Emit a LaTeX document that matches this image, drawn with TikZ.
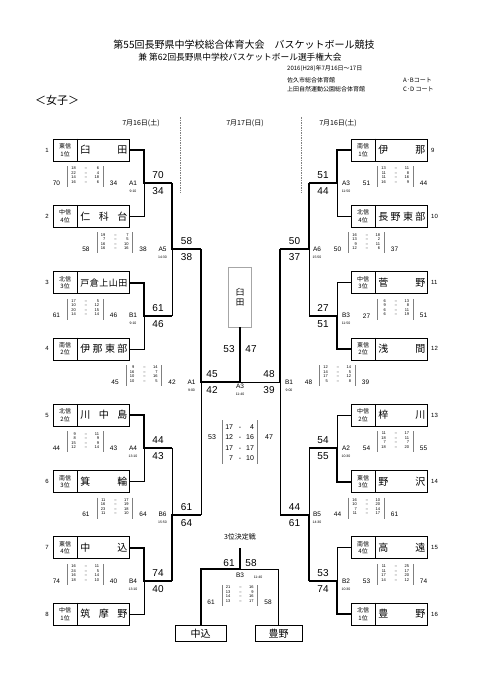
\documentclass[tikz,border=0pt]{standalone}
\usepackage{fontspec}
\setmainfont{Liberation Sans}
\newfontfamily\jp{Noto Sans CJK JP}

% one quarter row of a score table
\newcommand\qtr[2]{\makebox[4.5pt][r]{#1}\hspace{8.9pt}--\hspace{7.5pt}\makebox[4.5pt][r]{#2}}
\newcommand\qtrbig[2]{\makebox[8pt][r]{#1}\hspace{5.8pt}-\hspace{4.8pt}\makebox[8pt][r]{#2}}

% score table: centre x, match y, left score, right score, rows, name
\newcommand\scoretab[6]{%
  \draw[tabline] (#1-17.75,#2-17) -- (#1-17.75,#2+4);
  \draw[tabline] (#1+17.75,#2-17) -- (#1+17.75,#2+4);
  \node[tscore] (#6l) at (#1-28.5,#2) {#3};
  \node[tscore] (#6r) at (#1+28.5,#2) {#4};
  \node[qrows] (#6q) at (#1+0.25,#2-8) {#5};
}
% match label with its time below
\newcommand\matchlbl[5]{%
  \node[mlabel] (#5) at (#1,#2) {#3};
  \node[mtime] (#5t) at (#1,#2+8) {#4};
}

\tikzset{
  win/.style={line width=2pt},
  lose/.style={line width=0.7pt},
  teambox/.style={draw, line width=0.8pt, minimum width=76pt, minimum height=22pt, inner sep=0pt},
  cellline/.style={line width=0.8pt},
  regtext/.style={font=\jp\fontsize{6}{7.5}\selectfont, align=center, inner sep=0pt},
  nametext/.style={font=\jp\fontsize{10}{10}\selectfont, inner sep=0pt},
  seedno/.style={font=\fontsize{6}{6}\selectfont, inner sep=0pt},
  bscore/.style={font=\fontsize{10}{10}\selectfont, inner sep=0pt},
  tscore/.style={font=\fontsize{6.5}{6.5}\selectfont, inner sep=0pt},
  mlabel/.style={font=\fontsize{6.5}{6.5}\selectfont, inner sep=0pt},
  mtime/.style={font=\fontsize{3.5}{3.5}\selectfont, inner sep=0pt},
  qrows/.style={font=\fontsize{4}{4.5}\selectfont, align=center, inner sep=0pt},
  tabline/.style={gray, line width=0.4pt},
  sepline/.style={gray, line width=0.5pt, dash pattern=on 1.5pt off 1pt},
  jptext/.style={font=\jp\fontsize{#1}{#1}\selectfont, inner sep=0pt},
}

\begin{document}
\begin{tikzpicture}[x=1pt,y=-1pt]
    \fill[white] (0,0) rectangle (481,680);

    % Header
    \node[jptext=10] (title) at (244,45) {第55回長野県中学校総合体育大会　バスケットボール競技};
    \node[jptext=8.7] (subtitle) at (240,57) {兼 第62回長野県中学校バスケットボール選手権大会};
    \node[jptext=6, anchor=west] (info1) at (287,69) {2016(H28)年7月16日～17日};
    \node[jptext=6, anchor=west] (info2) at (287,80) {佐久市総合体育館};
    \node[jptext=6, anchor=west] (info3) at (287,89) {上田自然運動公園総合体育館};
    \node[jptext=6, anchor=west] (court1) at (403,80) {A･Bコート};
    \node[jptext=6, anchor=west] (court2) at (403,89) {C･D コート};
    \node[jptext=11] (girls) at (57,100) {＜女子＞};

    % Days
    \node[jptext=7] (day1) at (141,123) {7月16日(土)};
    \node[jptext=7] (day2) at (245,123) {7月17日(日)};
    \node[jptext=7] (day3) at (338,123) {7月16日(土)};
    \draw[sepline] (180,117) -- (180,193);
    \draw[sepline] (301,117) -- (301,193);

    % Teams, left
    \foreach \i/\rg/\nm in {1/{東信\\1位}/{臼\hfill 田},
        2/{中信\\4位}/{仁\hfill 科\hfill 台},
        3/{北信\\3位}/{\fontsize{9}{9}\selectfont 戸\hfill 倉\hfill 上\hfill 山\hfill 田},
        4/{南信\\2位}/{伊\hfill 那\hfill 東\hfill 部},
        5/{北信\\2位}/{川\hfill 中\hfill 島},
        6/{南信\\3位}/{箕\hfill 輪},
        7/{東信\\4位}/{中\hfill 込},
        8/{中信\\1位}/{筑\hfill 摩\hfill 野}}{
      \pgfmathsetmacro\yy{150+66.3*(\i-1)}
      \node[teambox] (t\i) at (91,\yy) {};
      \draw[cellline] ([xshift=25pt]t\i.north west) -- ([xshift=25pt]t\i.south west);
      \node[regtext] (g\i) at ([xshift=12.5pt]t\i.west) {\rg};
      \node[nametext] (n\i) at ([xshift=-25.5pt]t\i.east) {\makebox[47pt]{\nm}};
      \node[seedno] (s\i) at (47,\yy) {\i};
    }

    % Teams, right
    \foreach \i/\rg/\nm in {9/{南信\\1位}/{伊\hfill 那},
        10/{北信\\4位}/{長\hfill 野\hfill 東\hfill 部},
        11/{中信\\3位}/{菅\hfill 野},
        12/{東信\\2位}/{浅\hfill 間},
        13/{中信\\2位}/{梓\hfill 川},
        14/{東信\\3位}/{野\hfill 沢},
        15/{南信\\4位}/{高\hfill 遠},
        16/{北信\\1位}/{豊\hfill 野}}{
      \pgfmathsetmacro\yy{150+66.3*(\i-9)}
      \node[teambox] (t\i) at (389,\yy) {};
      \draw[cellline] ([xshift=25pt]t\i.north west) -- ([xshift=25pt]t\i.south west);
      \node[regtext] (g\i) at ([xshift=12.5pt]t\i.west) {\rg};
      \node[nametext] (n\i) at ([xshift=-25.5pt]t\i.east) {\makebox[47pt]{\nm}};
      \node[seedno, anchor=west] (s\i) at (431,\yy) {\i};
    }

    % Bracket joints
    \foreach \k in {1,...,4}{
      \pgfmathsetmacro\mm{183.15+132.6*(\k-1)}
      \coordinate (la\k) at (144,\mm);
      \coordinate (lb\k) at (172,\mm);
      \coordinate (ra\k) at (337,\mm);
      \coordinate (rb\k) at (309,\mm);
    }
    \coordinate (lc1) at (172,249.45);  \coordinate (ld1) at (201,249.45);
    \coordinate (lc2) at (172,514.65);  \coordinate (ld2) at (201,514.65);
    \coordinate (rc1) at (309,249.45);  \coordinate (rd1) at (280,249.45);
    \coordinate (rc2) at (309,514.65);  \coordinate (rd2) at (280,514.65);
    \coordinate (le) at (201,382.05);
    \coordinate (re) at (280,382.05);
    \coordinate (ctr) at (240,382.05);

    % Champion
    \node[draw=gray!70, line width=0.6pt, minimum width=23pt, minimum height=60pt,
      font=\jp\fontsize{8.5}{10}\selectfont, align=center] (champ) at (240,297) {臼\\田};

    % Losers
    \draw[lose] (t2.east) -| (la1);
    \draw[lose] (t4.east) -| (la2);
    \draw[lose] (t6.east) -| (la3);
    \draw[lose] (t8.east) -| (la4);
    \draw[lose] (lb2) -- (lc1);
    \draw[lose] (lb3) -- (lc2);
    \draw[lose] (ld2) -- (le);
    \draw[lose] (t10.west) -| (ra1);
    \draw[lose] (t11.west) -| (ra2);
    \draw[lose] (t13.west) -| (ra3);
    \draw[lose] (t15.west) -| (ra4);
    \draw[lose] (rb2) -- (rc1);
    \draw[lose] (rb3) -- (rc2);
    \draw[lose] (rd2) -- (re);
    \draw[lose] (re) -- (ctr);

    % Winners
    \draw[win] (t1.east) -| (la1) -- (lb1);
    \draw[win] (t3.east) -| (la2) -- (lb2);
    \draw[win] (t5.east) -| (la3) -- (lb3);
    \draw[win] (t7.east) -| (la4) -- (lb4);
    \draw[win] (lb1) -- (lc1) -- (ld1);
    \draw[win] (lb4) -- (lc2) -- (ld2);
    \draw[win] (ld1) -- (le) -- (ctr) -- (champ.south);
    \draw[win] (t9.west) -| (ra1) -- (rb1);
    \draw[win] (t12.west) -| (ra2) -- (rb2);
    \draw[win] (t14.west) -| (ra3) -- (rb3);
    \draw[win] (t16.west) -| (ra4) -- (rb4);
    \draw[win] (rb1) -- (rc1) -- (rd1);
    \draw[win] (rb4) -- (rc2) -- (rd2);
    \draw[win] (rd1) -- (re);

    % Scores on the bracket
    \foreach \x/\m/\a/\b [count=\k] in {158/183.15/70/34, 158/315.75/61/46,
        158/448.35/44/43, 158/580.95/74/40, 186.5/249.45/58/38, 186.5/514.65/61/64,
        212/382.05/45/42, 323/183.15/51/44, 323/315.75/27/51, 323/448.35/54/55,
        323/580.95/53/74, 294.5/249.45/50/37, 294.5/514.65/44/61, 269/382.05/48/39}{
      \node[bscore] (ba\k) at (\x,\m-8) {\a};
      \node[bscore] (bb\k) at (\x,\m+8) {\b};
    }
    \node[bscore] (fa) at (229,349) {53};
    \node[bscore] (fb) at (251,349) {47};

    % Score tables, left
    \scoretab{85}{183.15}{70}{34}{\qtr{18}{6}\\\qtr{22}{4}\\\qtr{14}{18}\\\qtr{16}{6}}{sa}
    \matchlbl{133}{183.15}{A1}{9:10}{ma}
    \scoretab{85}{315.75}{61}{46}{\qtr{17}{5}\\\qtr{10}{12}\\\qtr{20}{15}\\\qtr{14}{14}}{sb}
    \matchlbl{133}{315.75}{B1}{9:10}{mb}
    \scoretab{85}{448.35}{44}{43}{\qtr{9}{11}\\\qtr{8}{9}\\\qtr{15}{9}\\\qtr{12}{14}}{sc}
    \matchlbl{133}{448.35}{A4}{13:10}{mc}
    \scoretab{85}{580.95}{74}{40}{\qtr{16}{11}\\\qtr{24}{5}\\\qtr{16}{14}\\\qtr{18}{10}}{sd}
    \matchlbl{133}{580.95}{B4}{13:10}{md}
    \scoretab{114.5}{249.45}{58}{38}{\qtr{19}{7}\\\qtr{7}{5}\\\qtr{16}{10}\\\qtr{16}{16}}{se}
    \matchlbl{162.5}{249.45}{A5}{14:30}{me}
    \scoretab{114.5}{514.65}{61}{64}{\qtr{11}{17}\\\qtr{16}{19}\\\qtr{23}{18}\\\qtr{11}{10}}{sf}
    \matchlbl{162.5}{514.65}{B6}{15:50}{mf}
    \scoretab{143.5}{382.05}{45}{42}{\qtr{9}{14}\\\qtr{16}{7}\\\qtr{10}{16}\\\qtr{10}{5}}{sg}
    \matchlbl{191.5}{382.05}{A1}{9:00}{mg}

    % Score tables, right
    \scoretab{395}{183.15}{51}{44}{\qtr{13}{11}\\\qtr{11}{8}\\\qtr{11}{16}\\\qtr{16}{9}}{sh}
    \matchlbl{346}{183.15}{A3}{11:50}{mh}
    \scoretab{395}{315.75}{27}{51}{\qtr{6}{13}\\\qtr{9}{8}\\\qtr{6}{11}\\\qtr{6}{19}}{si}
    \matchlbl{346}{315.75}{B3}{11:50}{mi}
    \scoretab{395}{448.35}{54}{55}{\qtr{11}{17}\\\qtr{18}{11}\\\qtr{7}{7}\\\qtr{18}{20}}{sj}
    \matchlbl{346}{448.35}{A2}{10:30}{mj}
    \scoretab{395}{580.95}{53}{74}{\qtr{11}{25}\\\qtr{11}{17}\\\qtr{17}{20}\\\qtr{14}{12}}{sk}
    \matchlbl{346}{580.95}{B2}{10:30}{mk}
    \scoretab{366}{249.45}{50}{37}{\qtr{16}{18}\\\qtr{13}{2}\\\qtr{9}{11}\\\qtr{12}{6}}{sl}
    \matchlbl{317}{249.45}{A6}{15:50}{ml}
    \scoretab{366}{514.65}{44}{61}{\qtr{16}{10}\\\qtr{10}{20}\\\qtr{7}{14}\\\qtr{11}{17}}{sm}
    \matchlbl{317}{514.65}{B5}{14:30}{mm}
    \scoretab{337}{382.05}{48}{39}{\qtr{12}{14}\\\qtr{14}{5}\\\qtr{17}{12}\\\qtr{5}{8}}{sn}
    \matchlbl{289}{382.05}{B1}{9:00}{mn}

    % Final
    \matchlbl{240}{386}{A3}{11:40}{mfin}
    \draw[tabline] (222,420) -- (222,464);
    \draw[tabline] (257,420) -- (257,464);
    \node[font=\fontsize{7}{10.4}\selectfont, align=center, inner sep=0pt] (finq) at (239.5,442.5)
      {\qtrbig{17}{4}\\\qtrbig{12}{16}\\\qtrbig{17}{17}\\\qtrbig{7}{10}};
    \node[font=\fontsize{7}{7}\selectfont, inner sep=0pt] (finl) at (212,437) {53};
    \node[font=\fontsize{7}{7}\selectfont, inner sep=0pt] (finr) at (269,437) {47};

    % Third place
    \node[jptext=7] (third) at (240,537) {3位決定戦};
    \coordinate (tptop) at (240,548);
    \coordinate (tpj) at (240,569);
    \node[draw, line width=0.8pt, minimum width=51pt, minimum height=16pt,
      font=\jp\fontsize{10}{10}\selectfont] (tpl) at (200.5,633.5) {中込};
    \node[draw, line width=0.8pt, minimum width=47pt, minimum height=16pt,
      font=\jp\fontsize{10}{10}\selectfont] (tpr) at (278.5,633.5) {豊野};
    \draw[lose] (tpj) -| (tpr.north);
    \draw[win] (tptop) -- (tpj) -| (tpl.north);
    \node[bscore] (tpa) at (229,563) {61};
    \node[bscore] (tpb) at (251,563) {58};
    \node[mlabel] (tplbl) at (240,575) {B3};
    \node[mtime] (tptime) at (258,577) {11:40};
    \scoretab{239.5}{602}{61}{58}{\qtr{21}{16}\\\qtr{13}{9}\\\qtr{14}{16}\\\qtr{13}{17}}{so}
\end{tikzpicture}
\end{document}
